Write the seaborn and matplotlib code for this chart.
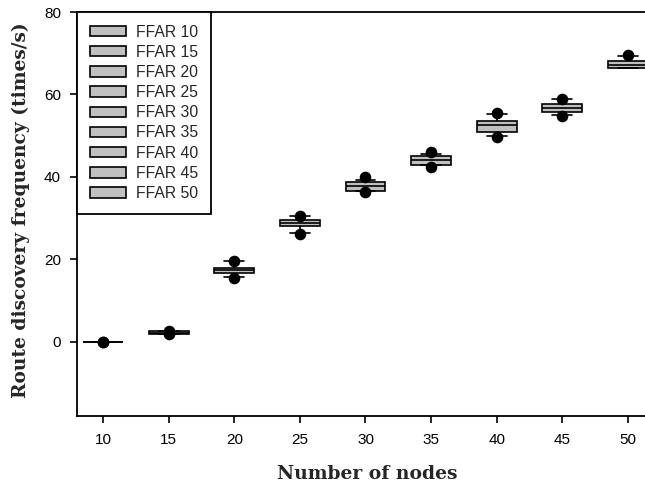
import matplotlib
matplotlib.use("Agg")
import matplotlib.pyplot as plt
import seaborn as sns
import pandas as pd
import numpy as np

nodes = [10, 15, 20, 25, 30, 35, 40, 45, 50]
whisk_lo = [0, 2.0, 15.6, 26.3, 36.65, 42.9, 49.8, 55.0, 66.4]
q1 = [0, 2.0, 16.8, 28.2, 36.65, 42.9, 50.9, 55.7, 66.4]
median = [0, 2.2, 17.4, 28.9, 37.7, 44.0, 52.6, 56.6, 67.2]
q3 = [0, 2.5, 18.0, 29.5, 38.8, 45.1, 53.6, 57.6, 68.1]
whisk_hi = [0, 2.5, 19.5, 30.5, 39.3, 45.6, 55.3, 58.8, 69.3]
out_lo = [0, 1.9, 15.5, 26.1, 36.3, 42.3, 49.6, 54.85, np.nan]
out_hi = [0, 2.6, 19.6, 30.6, 39.9, 45.97, 55.4, 59.0, 69.6]
legend_labels = ["FFAR %d" % n for n in nodes]
yticks = [0, 20, 40, 60, 80]

# Build a sample for each group whose quartiles / extremes reproduce the box
rows = []
for i, n in enumerate(nodes):
    sample = [whisk_lo[i], q1[i], q1[i], median[i], q3[i], q3[i], whisk_hi[i]]
    for v in sample:
        rows.append({"nodes": str(n), "label": legend_labels[i], "value": v})
df = pd.DataFrame(rows)

outl = pd.DataFrame({
    "nodes": [str(n) for n in nodes] * 2,
    "value": out_lo + out_hi,
}).dropna()

sns.set_style("ticks")
plt.rcParams["font.family"] = ["Liberation Sans", "DejaVu Sans"]

fig = plt.figure(figsize=(6.45, 4.91), dpi=100)
ax = fig.add_axes([77 / 645, 1 - 416 / 491, (654 - 77) / 645, (416 - 12) / 491])

order = [str(n) for n in nodes]
sns.boxplot(
    data=df, x="nodes", y="value", hue="label", order=order,
    hue_order=legend_labels, palette=["#c0c0c0"] * len(nodes),
    dodge=False, width=0.61, whis=(0, 100), linecolor="black", linewidth=1.2,
    showfliers=False, ax=ax, legend=True,
)
sns.scatterplot(
    data=outl, x="nodes", y="value", color="black", s=70, edgecolor="black",
    linewidth=0, zorder=5, ax=ax, legend=False,
)

ax.set_xlim(-0.4, 8.4)
ax.set_ylim(-18, 80)
ax.set_yticks(yticks)
ax.set_yticklabels([str(t) for t in yticks])
ax.tick_params(axis="both", direction="out", length=5, width=1.2,
               labelsize=11, colors="black")
ax.tick_params(axis="x", pad=7)
ax.tick_params(axis="y", pad=6.5)
for side in ["left", "bottom", "top"]:
    ax.spines[side].set_linewidth(1.3)
    ax.spines[side].set_color("black")
ax.spines["right"].set_visible(False)

ax.set_xlabel("Number of nodes", fontsize=13.5, fontweight="bold",
              family="DejaVu Serif")
ax.set_ylabel("Route discovery frequency (times/s)", fontsize=13.4,
              fontweight="bold", family="DejaVu Serif")
ax.xaxis.set_label_coords(0.5025, -0.121)
ax.yaxis.set_label_coords(-0.081, 0.51)

leg = ax.legend(loc="upper left", bbox_to_anchor=(0, 1), fontsize=11.3,
                frameon=True, fancybox=False, borderaxespad=0,
                handlelength=2.35, handleheight=0.65, labelspacing=0.33,
                borderpad=0.8, handletextpad=0.6)
leg.get_frame().set_edgecolor("black")
leg.get_frame().set_linewidth(1.3)
leg.get_frame().set_alpha(1)

fig.savefig("out.png", dpi=100)
